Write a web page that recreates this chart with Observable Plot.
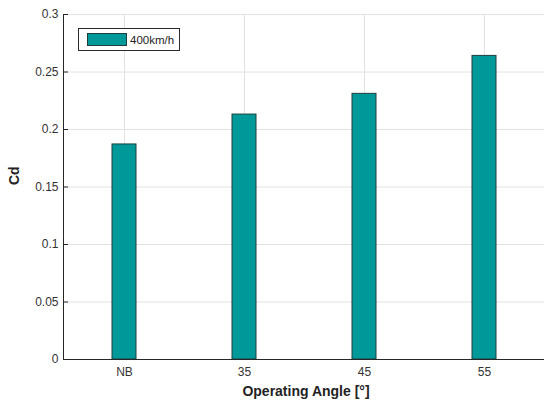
<!DOCTYPE html>
<html>
<head>
<meta charset="utf-8">
<script src="https://cdn.jsdelivr.net/npm/d3@7"></script>
<script src="https://cdn.jsdelivr.net/npm/@observablehq/plot@0.6"></script>
<style>
  body { margin: 0; background: #fff; }
  #chart { position: relative; width: 544px; height: 403px; font-family: "Liberation Sans", Arial, sans-serif; }
  #chart svg { display: block; }
  .legend {
    position: absolute; left: 78px; top: 28px; width: 102px; height: 23px;
    box-sizing: border-box; border: 1px solid #2a2a2a; background: #fff;
    display: flex; align-items: center; font-size: 11.5px; color: #222;
  }
  .legend .swatch {
    display: inline-block; width: 40px; height: 13px; box-sizing: border-box;
    margin-left: 8px; margin-right: 3px; border: 1px solid #1f3f3f; background: #009999;
  }
</style>
</head>
<body>
<div id="chart"></div>
<script>
// Drag coefficient per operating angle, one series at 400 km/h
const angles = ["NB", "35", "45", "55"];
const cd = [0.187, 0.213, 0.231, 0.264];
const yTicks = [0, 0.05, 0.1, 0.15, 0.2, 0.25, 0.3];
const seriesName = "400km/h";
const xTitle = "Operating Angle [°]";
const yTitle = "Cd";

const data = angles.map((a, i) => ({angle: a, cd: cd[i]}));
const gridColor = "#e2e2e2";
const axisColor = "#262626";

const chart = Plot.plot({
  width: 544,
  height: 403,
  marginLeft: 63,
  marginRight: 0,
  marginTop: 14,
  marginBottom: 44,
  style: {fontFamily: "'Liberation Sans', Arial, sans-serif", fontSize: "12px", color: "#333", background: "#fff"},
  x: {type: "band", domain: angles, paddingInner: 0.8, paddingOuter: 0.4, range: [63, 545]},
  y: {domain: [0, 0.3]},
  marks: [
    Plot.gridY(yTicks, {stroke: gridColor, strokeOpacity: 1}),
    Plot.gridX(angles, {stroke: gridColor, strokeOpacity: 1}),
    Plot.barY(data, {x: "angle", y: "cd", fill: "#009999", stroke: "#1f3f3f", strokeWidth: 1}),
    Plot.frame({anchor: "left", stroke: axisColor}),
    Plot.frame({anchor: "bottom", stroke: axisColor}),
    Plot.axisY(yTicks, {tickSize: -5, tickPadding: 10, tickFormat: d => String(+d.toFixed(2)), label: null, stroke: axisColor, fill: "#333"}),
    Plot.axisX(angles, {tickSize: 0, tickPadding: 8, label: null, fill: "#333"}),
    Plot.text([yTitle], {frameAnchor: "left", rotate: -90, dx: -48.5, dy: -2, fontWeight: "bold", fontSize: 14, fill: "#222"}),
    Plot.text([xTitle], {frameAnchor: "bottom", dx: 2, dy: 36, fontWeight: "bold", fontSize: 14, fill: "#222"})
  ]
});

const host = document.getElementById("chart");
host.appendChild(chart);

// Legend box drawn over the top-left of the axes
const legend = document.createElement("div");
legend.className = "legend";
const sw = document.createElement("span");
sw.className = "swatch";
const label = document.createElement("span");
label.textContent = seriesName;
legend.appendChild(sw);
legend.appendChild(label);
host.appendChild(legend);
</script>
</body>
</html>
